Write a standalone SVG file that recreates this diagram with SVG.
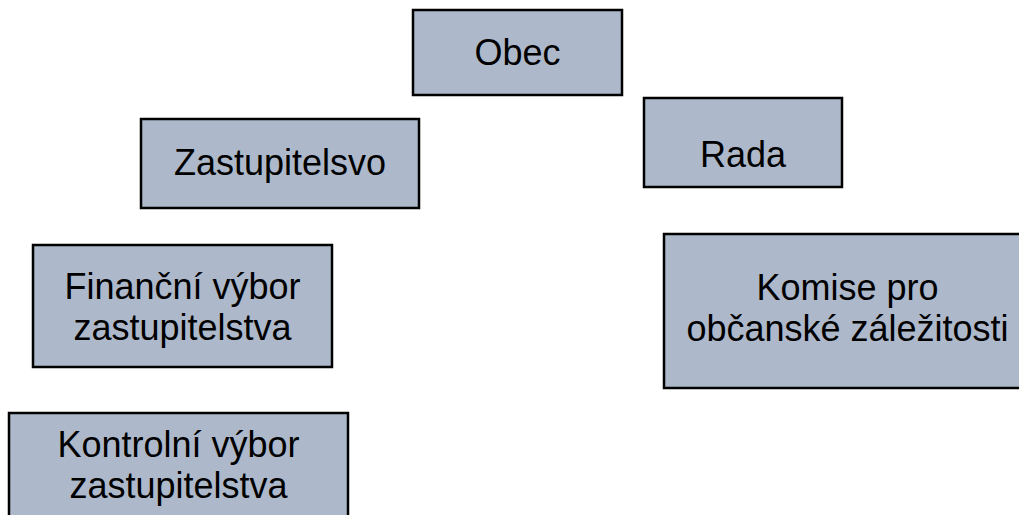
<svg xmlns="http://www.w3.org/2000/svg" width="1019" height="515" viewBox="0 0 1019 515">
<style>
.box{fill:#adb9ca;stroke:#000;stroke-width:2.5}
.t{font-family:"Liberation Sans",Arial,sans-serif;font-size:36px;fill:#000;text-anchor:middle}
</style>
<rect width="1019" height="515" fill="#fff"/>
<g id="connectors"></g>
<g id="obec"><rect class="box" x="413" y="10" width="209" height="85"/><text class="t" x="517.5" y="65">Obec</text></g>
<g id="zastupitelstvo"><rect class="box" x="141" y="119" width="278" height="89"/><text class="t" x="280" y="175">Zastupitelsvo</text></g>
<g id="rada"><rect class="box" x="644" y="98" width="198" height="89"/><text class="t" x="743" y="167">Rada</text></g>
<g id="financni"><rect class="box" x="33" y="245" width="299" height="122"/><text class="t" x="182.5" y="299">Finanční výbor</text><text class="t" x="182.5" y="340">zastupitelstva</text></g>
<g id="komise"><rect class="box" x="664" y="234" width="367" height="154"/><text class="t" x="847.5" y="300">Komise pro</text><text class="t" x="847.5" y="341">občanské záležitosti</text></g>
<g id="kontrolni"><rect class="box" x="9" y="413" width="339" height="120"/><text class="t" x="178.5" y="457">Kontrolní výbor</text><text class="t" x="178.5" y="498">zastupitelstva</text></g>
</svg>
